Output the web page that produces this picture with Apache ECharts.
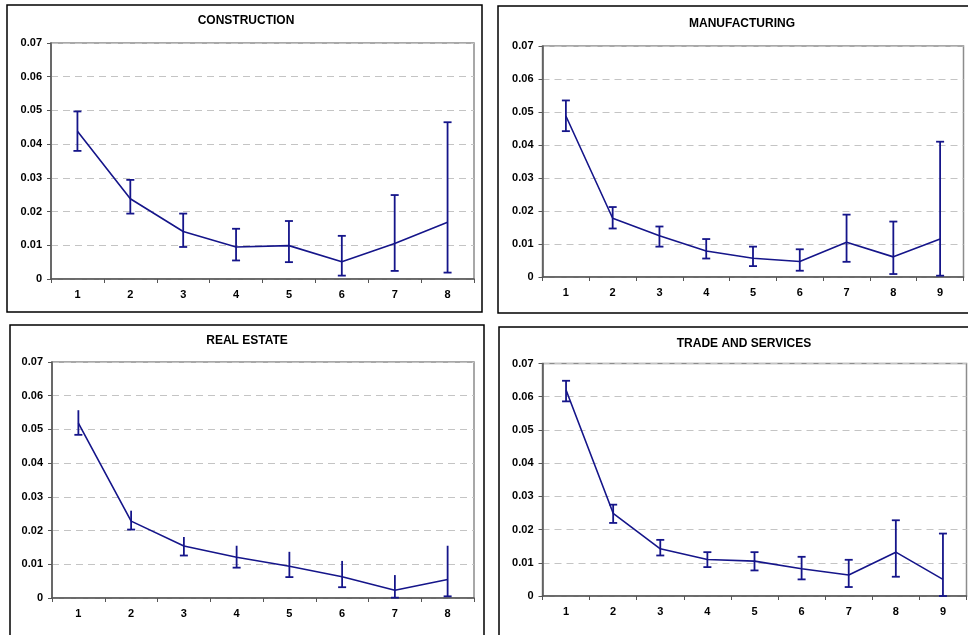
<!DOCTYPE html>
<html>
<head>
<meta charset="utf-8">
<script src="https://cdn.jsdelivr.net/npm/echarts@6/dist/echarts.min.js"></script>
<style>
html,body{margin:0;padding:0;background:#fff;}
#chart{width:968px;height:635px;}
</style>
</head>
<body>
<div id="chart"></div>
<script>
// ---- DATA ----
const titles = ['CONSTRUCTION', 'MANUFACTURING', 'REAL ESTATE', 'TRADE AND SERVICES'];
const yTicks = [0, 0.01, 0.02, 0.03, 0.04, 0.05, 0.06, 0.07];

const constructionCats = ['1', '2', '3', '4', '5', '6', '7', '8'];
const constructionMean = [0.0438, 0.0238, 0.0141, 0.0095, 0.0099, 0.0051, 0.0105, 0.0168];
const constructionLow  = [0.0380, 0.0194, 0.0095, 0.0055, 0.0050, 0.0010, 0.0024, 0.0019];
const constructionHigh = [0.0497, 0.0294, 0.0194, 0.0149, 0.0172, 0.0128, 0.0249, 0.0465];

const manufacturingCats = ['1', '2', '3', '4', '5', '6', '7', '8', '9'];
const manufacturingMean = [0.0488, 0.0178, 0.0125, 0.0079, 0.0057, 0.0047, 0.0105, 0.0061, 0.0115];
const manufacturingLow  = [0.0442, 0.0147, 0.0092, 0.0056, 0.0033, 0.0019, 0.0046, 0.0009, 0.0004];
const manufacturingHigh = [0.0535, 0.0212, 0.0153, 0.0115, 0.0092, 0.0084, 0.0189, 0.0168, 0.0410];

const realEstateCats = ['1', '2', '3', '4', '5', '6', '7', '8'];
const realEstateMean = [0.0519, 0.0228, 0.0154, 0.0121, 0.0094, 0.0063, 0.0023, 0.0055];
const realEstateLow  = [0.0484, 0.0203, 0.0126, 0.0090, 0.0062, 0.0032, 0.0001, 0.0005];
const realEstateHigh = [0.0557, 0.0259, 0.0181, 0.0155, 0.0137, 0.0110, 0.0068, 0.0155];

const tradeCats = ['1', '2', '3', '4', '5', '6', '7', '8', '9'];
const tradeMean = [0.0620, 0.0249, 0.0142, 0.0110, 0.0105, 0.0082, 0.0063, 0.0132, 0.0050];
const tradeLow  = [0.0586, 0.0220, 0.0122, 0.0087, 0.0077, 0.0050, 0.0027, 0.0058, 0.0000];
const tradeHigh = [0.0648, 0.0275, 0.0169, 0.0132, 0.0132, 0.0118, 0.0109, 0.0228, 0.0188];

// ---- LAYOUT / STYLE ----
const NAVY = '#15158a';
const FONT = '"Liberation Sans", Arial, sans-serif';
const panels = [
  {cats: constructionCats, mean: constructionMean, low: constructionLow, high: constructionHigh,
   grid: {left: 51, top: 43, width: 423, height: 236}, box: [7, 5, 475, 307], title: [241, 10], topCap: true},
  {cats: manufacturingCats, mean: manufacturingMean, low: manufacturingLow, high: manufacturingHigh,
   grid: {left: 542.5, top: 46, width: 421, height: 231}, box: [498, 6, 490, 307], title: [737, 13], topCap: true},
  {cats: realEstateCats, mean: realEstateMean, low: realEstateLow, high: realEstateHigh,
   grid: {left: 52, top: 362, width: 422, height: 236}, box: [10, 325, 474, 330], title: [242, 330], topCap: false},
  {cats: tradeCats, mean: tradeMean, low: tradeLow, high: tradeHigh,
   grid: {left: 542.5, top: 363.5, width: 424, height: 232.5}, box: [499, 327, 490, 330], title: [739, 333], topCap: true}
];

const grids = [], xAxes = [], yAxes = [], series = [], graphics = [], titleOpts = [];

panels.forEach((p, i) => {
  graphics.push({
    type: 'rect', z: -10,
    shape: {x: p.box[0], y: p.box[1], width: p.box[2], height: p.box[3]},
    style: {fill: '#fff', stroke: '#000', lineWidth: 1.5}
  });
  titleOpts.push({
    text: titles[i], left: p.title[0], top: p.title[1], textAlign: 'center',
    textStyle: {fontFamily: FONT, fontWeight: 'bold', fontSize: 12, color: '#000'}
  });
  grids.push(Object.assign({show: true, borderColor: '#8c8c8c', borderWidth: 1.5, backgroundColor: '#fff'}, p.grid));
  xAxes.push({
    type: 'category', gridIndex: i, data: p.cats, boundaryGap: true,
    axisLine: {lineStyle: {color: '#555', width: 1.5}},
    axisTick: {show: true, inside: false, length: 4, lineStyle: {color: '#555', width: 1}},
    axisLabel: {fontFamily: FONT, fontWeight: 'bold', fontSize: 11, color: '#000', margin: 10},
    splitLine: {show: false}
  });
  yAxes.push({
    type: 'value', gridIndex: i, min: yTicks[0], max: yTicks[yTicks.length - 1], interval: 0.01,
    axisLine: {show: true, lineStyle: {color: '#555', width: 1.5}},
    axisTick: {show: true, length: 4, lineStyle: {color: '#555', width: 1}},
    axisLabel: {fontFamily: FONT, fontWeight: 'bold', fontSize: 11, color: '#000', margin: 9,
      formatter: v => String(Math.round(v * 100) / 100)},
    splitLine: {show: true, lineStyle: {color: '#c4c4c4', type: [7, 5], width: 1}}
  });
  series.push({
    type: 'line', xAxisIndex: i, yAxisIndex: i, data: p.mean,
    symbol: 'none', lineStyle: {color: NAVY, width: 1.6}, z: 3, animation: false
  });
  const errData = p.cats.map((c, k) => [k, p.low[k], p.high[k]]);
  const topCap = p.topCap;
  series.push({
    type: 'custom', xAxisIndex: i, yAxisIndex: i, data: errData, z: 4, animation: false,
    renderItem: (params, api) => {
      const x = api.value(0);
      const lo = api.coord([x, api.value(1)]);
      const hi = api.coord([x, api.value(2)]);
      const hw = 4;
      const st = {stroke: NAVY, lineWidth: 1.8};
      const ch = [
        {type: 'line', shape: {x1: lo[0], y1: lo[1], x2: hi[0], y2: hi[1]}, style: st},
        {type: 'line', shape: {x1: lo[0] - hw, y1: lo[1], x2: lo[0] + hw, y2: lo[1]}, style: st}
      ];
      if (topCap) ch.push({type: 'line', shape: {x1: hi[0] - hw, y1: hi[1], x2: hi[0] + hw, y2: hi[1]}, style: st});
      return {type: 'group', children: ch};
    }
  });
});

const chart = echarts.init(document.getElementById('chart'), null, {renderer: 'canvas'});
chart.setOption({
  backgroundColor: '#fff',
  animation: false,
  title: titleOpts,
  grid: grids,
  xAxis: xAxes,
  yAxis: yAxes,
  series: series,
  graphic: graphics
});
</script>
</body>
</html>
